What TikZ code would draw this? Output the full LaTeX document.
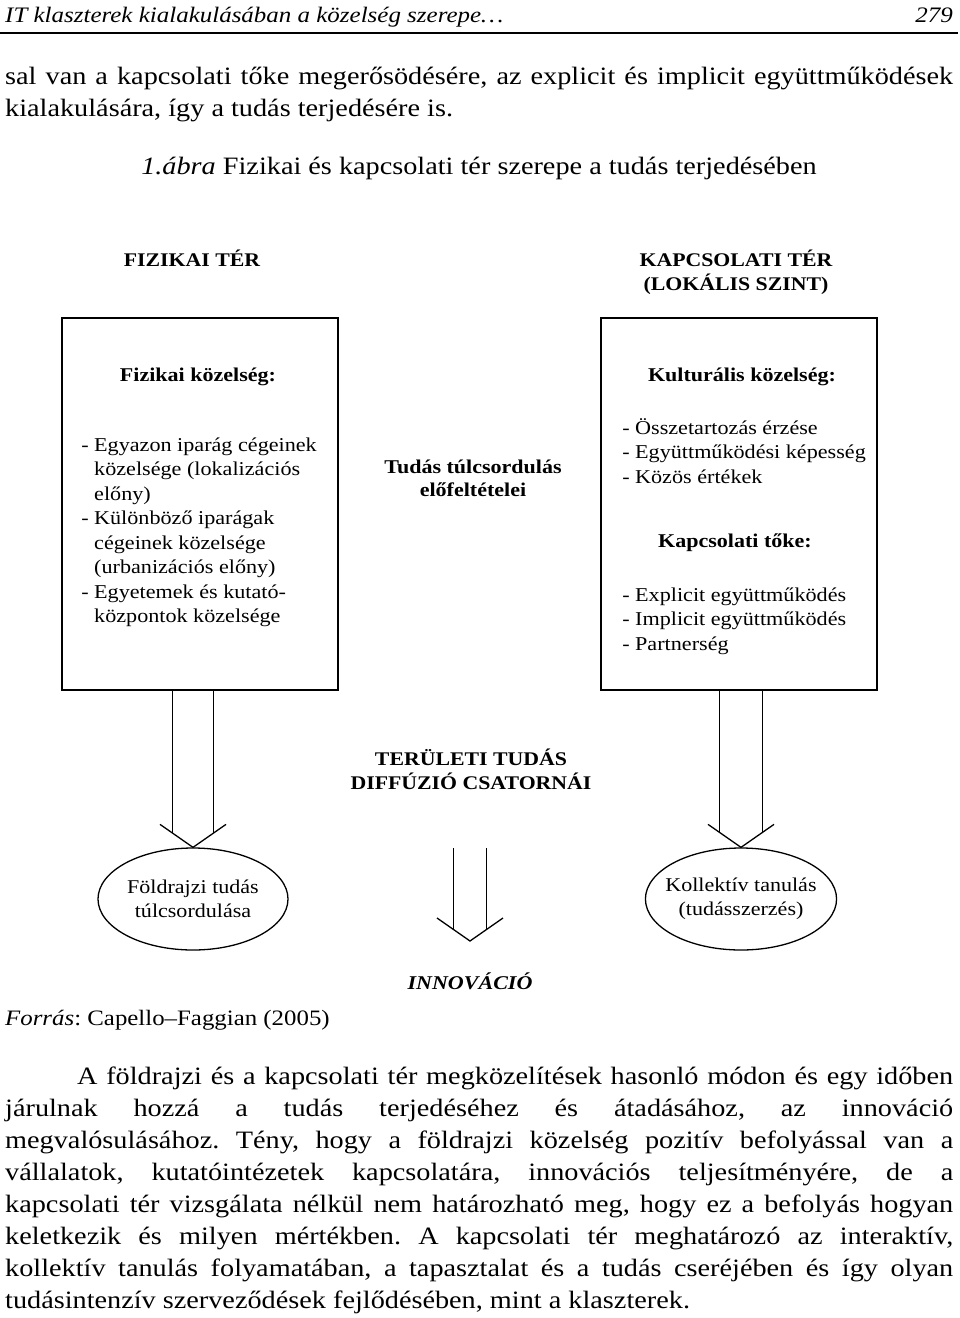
\documentclass[tikz,border=0pt]{standalone}
\usepackage{fontspec}
\setmainfont{Liberation Serif}
\newfontfamily\scanfont[FakeStretch=1.13]{Liberation Serif}
\usetikzlibrary{calc,shapes.geometric}
\newcommand\hangdash{\llap{- }}
% hollow arrow: two shafts and an open V head
\newcommand\twinarrow[3]{%
  \draw[twin]($(#2|-#1)+(-#3,0)$)--($(#2)+(-#3,{-0.7*#3})$);
  \draw[twin]($(#2|-#1)+(#3,0)$)--($(#2)+(#3,{-0.7*#3})$);
  \draw[twin]($(#2)+(-33,-23)$)--(#2)--($(#2)+(33,-23)$);}
\frenchspacing

\begin{document}
\begin{tikzpicture}[x=1pt,y=-1pt,every node/.style={inner sep=0pt},
  body/.style={anchor=base west,font=\scanfont\fontsize{25}{32}\selectfont},
  boxhd/.style={anchor=base,font=\scanfont\bfseries\fontsize{19.5}{24}\selectfont},
  boxtxt/.style={anchor=base west,font=\scanfont\fontsize{19.6}{24}\selectfont},
  caps/.style={anchor=base,font=\scanfont\bfseries\fontsize{19.3}{24}\selectfont},
  frame/.style={draw,line width=2pt,minimum width=276,minimum height=372},
  blob/.style={draw,ellipse,line width=1.3pt,inner xsep=-8pt,minimum width=190,minimum height=102,align=center,font=\scanfont\fontsize{19.5}{24}\selectfont},
  twin/.style={line width=1.3pt}]
\useasboundingbox[fill=white](0,0)rectangle(960,1318);
% page head
\node[anchor=base west,font=\scanfont\itshape\fontsize{22.1}{28}\selectfont](hd) at (5,22){IT klaszterek kialakulásában a közelség szerepe…};
\node[anchor=base east,font=\scanfont\itshape\fontsize{22.1}{28}\selectfont](pg) at (953,22){279};
\draw[line width=1.5pt](0,33)--(958,33);
\node[body](s1) at (5,84){\makebox[948pt][s]{sal van a kapcsolati tőke megerősödésére, az explicit és implicit együttműködések}};
\node[body](s2) at (5,116){kialakulására, így a tudás terjedésére is.};
\node[body,anchor=base](cap) at (479,174){\textit{1.ábra} Fizikai és kapcsolati tér szerepe a tudás terjedésében};
% figure
\node[caps](ft) at (192,266){FIZIKAI TÉR};
\node[caps](kt) at (736,266){KAPCSOLATI TÉR};
\node[caps](kl) at (736,290){(LOKÁLIS SZINT)};
\node[frame](fiz) at (200,504){};
\node[frame](kap) at (739,503.5){};
\node[boxhd](fk) at (198,381){Fizikai közelség:};
\foreach \t [count=\i] in {\hangdash Egyazon iparág cégeinek,közelsége (lokalizációs,előny),\hangdash Különböző iparágak,cégeinek közelsége,(urbanizációs előny),\hangdash Egyetemek és kutató-,központok közelsége}
  \node[boxtxt](fl\i) at (94,{451+24.5*(\i-1)}){\t};
\node[boxhd](kk) at (742,381){Kulturális közelség:};
\foreach \t [count=\i] in {\hangdash Összetartozás érzése,\hangdash Együttműködési képesség,\hangdash Közös értékek}
  \node[boxtxt](kl\i) at (635,{434+24.5*(\i-1)}){\t};
\node[boxhd](ktk) at (735,547){Kapcsolati tőke:};
\foreach \t [count=\i] in {\hangdash Explicit együttműködés,\hangdash Implicit együttműködés,\hangdash Partnerség}
  \node[boxtxt](kt\i) at (635,{601+24.5*(\i-1)}){\t};
\node[boxhd](tt) at (473,473){Tudás túlcsordulás};
\node[boxhd](te) at (473,496){előfeltételei};
\node[caps](td) at (471,765){TERÜLETI TUDÁS};
\node[caps](dc) at (471,789){DIFFÚZIÓ CSATORNÁI};
\node[blob](fold) at (193,899){Földrajzi tudás\\túlcsordulása};
\node[blob](koll) at (741,899){Kollektív tanulás\\(tudásszerzés)};
\node[caps,font=\scanfont\bfseries\itshape\fontsize{19.5}{24}\selectfont](inn) at (470,989){INNOVÁCIÓ};
\coordinate(mtop) at (470,848);\coordinate(mtip) at (470,941);
\twinarrow{fiz.south}{fold.north}{20.5}
\twinarrow{kap.south}{koll.north}{21.5}
\twinarrow{mtop}{mtip}{16.5}
% text below
\node[body,font=\scanfont\fontsize{22}{32}\selectfont](src) at (5,1025){\textit{Forrás}: Capello–Faggian (2005)};
\node[body](p0) at (77,1084){\makebox[876pt][s]{A földrajzi és a kapcsolati tér megközelítések hasonló módon és egy időben}};
\foreach \t [count=\i] in {{járulnak hozzá a tudás terjedéséhez és átadásához, az innováció},{megvalósulásához. Tény, hogy a földrajzi közelség pozitív befolyással van a},{vállalatok, kutatóintézetek kapcsolatára, innovációs teljesítményére, de a},{kapcsolati tér vizsgálata nélkül nem határozható meg, hogy ez a befolyás hogyan},{keletkezik és milyen mértékben. A kapcsolati tér meghatározó az interaktív,},{kollektív tanulás folyamatában, a tapasztalat és a tudás cseréjében és így olyan}}
  \node[body](p\i) at (5,{1084+32*\i}){\makebox[948pt][s]{\t}};
\node[body](p7) at (5,1308){tudásintenzív szerveződések fejlődésében, mint a klaszterek.};
\end{tikzpicture}
\end{document}
